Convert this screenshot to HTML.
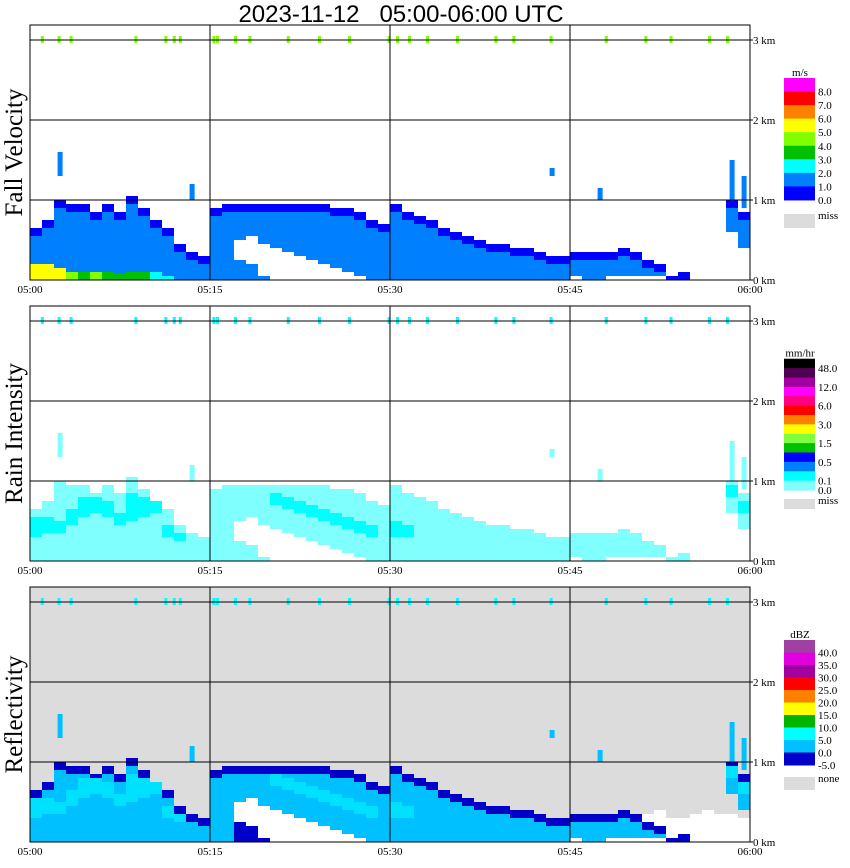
<!DOCTYPE html>
<html><head><meta charset="utf-8"><style>
body{margin:0;background:#fff;width:850px;height:868px;overflow:hidden}
svg{display:block}
text{font-family:"Liberation Serif",serif}
</style></head><body>
<svg id="c" width="850" height="868" xmlns="http://www.w3.org/2000/svg">
<text x="401" y="22" text-anchor="middle" font-size="24" style="font-family:'Liberation Sans',sans-serif;white-space:pre" xml:space="preserve">2023-11-12   05:00-06:00 UTC</text>
</svg>
<script>
// ---- data (per minute, 05:00..05:59), heights in km ----
const minutes = Array.from({length:60},(_, i)=>i);
const echoTop  = [0.65,0.75,1.0,0.95,0.95,0.85,0.95,0.85,1.05,0.9,0.75,0.65,0.45,0.35,0.3,0.9,0.95,0.95,0.95,0.95,0.95,0.95,0.95,0.95,0.95,0.9,0.9,0.85,0.75,0.7,0.95,0.85,0.8,0.75,0.65,0.6,0.55,0.5,0.45,0.45,0.4,0.4,0.35,0.3,0.3,0.35,0.35,0.35,0.35,0.4,0.35,0.25,0.2,0.05,0.1,0,0,0,1.0,0.85];
const echoBase = [0,0,0,0,0,0,0,0,0,0,0,0,0,0,0,0,0,0.5,0.55,0.45,0.4,0.35,0.3,0.25,0.2,0.15,0.1,0.05,0,0,0,0,0,0,0,0,0,0,0,0,0,0,0,0,0,0.05,0,0,0.05,0.05,0.05,0.05,0.05,0,0,0,0,0,0.6,0.4];
const lowTop   = [0,0,0,0,0,0,0,0,0,0,0,0,0,0,0,0,0,0.25,0.2,0.05,0,0,0,0,0,0,0,0,0,0,0,0,0,0,0,0,0,0,0,0,0,0,0,0,0,0,0,0,0,0,0,0,0,0,0,0,0,0,0,0];
const fvCoreTop = [0.2,0.2,0.15,0.1,0.1,0.1,0.1,0.08,0.1,0.1,0.1,0.05,0,0,0,0,0,0,0,0,0,0,0,0,0,0,0,0,0,0,0,0,0,0,0,0,0,0,0,0,0,0,0,0,0,0,0,0,0,0,0,0,0,0,0,0,0,0,0,0];
const fvCoreCls = [3,3,3,4,5,4,5,5,5,5,6,6,7,7,7,7,7,7,7,7,7,7,7,7,7,7,7,7,7,7,7,7,7,7,7,7,7,7,7,7,7,7,7,7,7,7,7,7,7,7,7,7,7,7,7,7,7,7,7,7];
const riBandLo = [0.3,0.35,0.35,0.45,0.55,0.6,0.55,0.45,0.5,0.55,0.6,0.3,0.25,0,0,0,0,0,0,0,0.7,0.65,0.6,0.55,0.5,0.45,0.4,0.35,0.3,0,0.3,0.3,0,0,0,0,0,0,0,0,0,0,0,0,0,0,0,0,0,0,0,0,0,0,0,0,0,0,0.8,0.6];
const riBandHi = [0.55,0.55,0.5,0.65,0.8,0.8,0.75,0.6,0.85,0.8,0.75,0.45,0.35,0,0,0,0,0,0,0,0.85,0.8,0.75,0.7,0.65,0.6,0.55,0.5,0.45,0,0.5,0.45,0,0,0,0,0,0,0,0,0,0,0,0,0,0,0,0,0,0,0,0,0,0,0,0,0,0,0.95,0.75];
const zWhiteTop = [0,0,0,0,0,0,0,0,0,0,0,0,0,0,0,0,0,0.5,0.55,0.45,0.4,0.35,0.3,0.25,0.2,0.15,0.1,0.05,0,0,0,0,0,0,0,0,0,0,0,0,0,0,0,0,0,0.2,0.3,0.35,0.3,0.3,0.25,0.35,0.4,0.3,0.3,0.35,0.4,0.35,0.35,0.3];
const cellMin = [2,13,43,47,58,59];
const cellLo  = [1.3,1.0,1.3,1.0,1.0,0.9];
const cellHi  = [1.6,1.2,1.4,1.15,1.5,1.3];
const clutter = [0.9,2.3,3.3,8.7,11.2,11.9,12.4,15.2,15.5,17.0,18.2,21.4,24.0,26.5,29.8,30.5,31.5,33.0,35.5,38.7,40.2,43.3,47.9,51.2,53.3,56.5,58.0];
const timeLabels = ["05:00","05:15","05:30","05:45","06:00"];
const kmLabels = ["0 km","1 km","2 km","3 km"];

const fvColors=["#ff00ff","#ff0000","#ff8000","#ffff00","#80ff00","#00c000","#00ffff","#0080ff","#0000ff"];
const fvLabels=["8.0","7.0","6.0","5.0","4.0","3.0","2.0","1.0","0.0"];
const riColors=["#000000","#500050","#a000a0","#ff00ff","#ff0080","#ff0000","#ff8000","#ffff00","#80ff40","#00c000","#0000ff","#0080ff","#00ffff","#80ffff"];
const riLabels=["48.0","","12.0","","6.0","","3.0","","1.5","","0.5","","0.1","0.0"];
const zColors=["#a040a0","#e000e0","#a000a0","#ff0000","#ff8000","#ffff00","#00b400","#00ffff","#00c0ff","#0000c8"];
const zLabels=["40.0","35.0","30.0","25.0","20.0","15.0","10.0","5.0","0.0","-5.0"];

const svg=document.getElementById('c');
const NS="http://www.w3.org/2000/svg";
const X0=30,X1=750,PH=255,KM=80;
const xs=m=>X0+m*(X1-X0)/60;
function el(tag,attrs,parent){const e=document.createElementNS(NS,tag);for(const k in attrs)e.setAttribute(k,attrs[k]);(parent||svg).appendChild(e);return e;}
function rect(g,m,lo,hi,fill,top,w){
  if(hi<=lo)return;
  const ys=km=>top+PH-km*KM;
  const r=el('rect',{x:xs(m),y:ys(hi),width:w||12,height:ys(lo)-ys(hi),fill:fill},g);
  
  
}
const panels=[
 {top:25,name:'fall-velocity',title:'Fall Velocity',bg:'#fff'},
 {top:306,name:'rain-intensity',title:'Rain Intensity',bg:'#fff'},
 {top:587,name:'reflectivity',title:'Reflectivity',bg:'#dcdcdc'}];
panels.forEach((p,pi)=>{
  const g=el('g',{});
  
  
  el('rect',{x:X0,y:p.top,width:X1-X0,height:PH,fill:p.bg},g);
  minutes.forEach(m=>{
    const t=echoTop[m],b=echoBase[m];
    if(pi===0){
      rect(g,m,b,t,'#0080ff',p.top);
      rect(g,m,Math.max(b,t-0.1),t,'#0000ff',p.top);
      rect(g,m,0,lowTop[m],'#0080ff',p.top);
      if(fvCoreTop[m]>0)rect(g,m,0,fvCoreTop[m],fvColors[fvCoreCls[m]],p.top);
    }else if(pi===1){
      rect(g,m,b,t,'#80ffff',p.top);
      rect(g,m,0,lowTop[m],'#80ffff',p.top);
      rect(g,m,riBandLo[m],riBandHi[m],'#00ffff',p.top);
    }else{
      rect(g,m,0,zWhiteTop[m],'#ffffff',p.top);
      rect(g,m,b,t,'#00c0ff',p.top);
      rect(g,m,Math.max(b,t-0.1),t,'#0000c8',p.top);
      rect(g,m,0,lowTop[m],'#0000c8',p.top);
      rect(g,m,riBandLo[m],riBandHi[m],'#00e0ff',p.top);
    }
  });
  cellMin.forEach((m,i)=>rect(g,m+0.3,cellLo[i],cellHi[i],pi===1?'#80ffff':(pi===0?'#0080ff':'#00c0ff'),p.top,5));
  clutter.forEach(m=>{
    const r=el('rect',{x:xs(m),y:p.top+PH-3*KM-4,width:3,height:7,fill:pi===0?'#80ff00':'#00ffff'},g);
    
    
  });
  [15,30,45].forEach(m=>el('line',{x1:xs(m),x2:xs(m),y1:p.top,y2:p.top+PH,stroke:'#000'},g));
  [1,2,3].forEach(k=>el('line',{x1:X0,x2:X1,y1:p.top+PH-k*KM,y2:p.top+PH-k*KM,stroke:'#000'},g));
  el('rect',{x:X0,y:p.top,width:X1-X0,height:PH,fill:'none',stroke:'#000'},g);
  kmLabels.forEach((s,k)=>{const t=el('text',{x:753,y:p.top+PH-k*KM+4,'font-size':11},g);t.textContent=s;
    
    el('line',{x1:X1,x2:X1+3,y1:p.top+PH-k*KM,y2:p.top+PH-k*KM,stroke:'#000'},g);});
  timeLabels.forEach((s,k)=>{const t=el('text',{x:xs(k*15),y:p.top+PH+13,'font-size':11,'text-anchor':'middle'},g);t.textContent=s;
    });
  const ty=p.top+PH/2;
  const tt=el('text',{x:22,y:ty,'font-size':25,'text-anchor':'middle',transform:`rotate(-90 22 ${ty})`},g);
  tt.textContent=p.title;
  
  
});
function legend(colors,labels,unit,y0,h,missY,missH,missLabel,name){
  const g=el('g',{});
  
  
  const u=el('text',{x:800,y:y0-2,'font-size':11,'text-anchor':'middle'},g);u.textContent=unit;
  colors.forEach((c,i)=>{
    const r=el('rect',{x:784,y:y0+i*h,width:31,height:h+0.5,fill:c},g);
    
    
    if(labels[i]){const t=el('text',{x:818,y:y0+(i+1)*h+4,'font-size':11},g);t.textContent=labels[i];}
  });
  el('rect',{x:784,y:missY,width:31,height:missH,fill:'#dcdcdc'},g);
  const m=el('text',{x:818,y:missY+5,'font-size':11},g);m.textContent=missLabel;
}
legend(fvColors,fvLabels,'m/s',78,13.55,214,14,'miss','fall-velocity-legend');
legend(riColors,riLabels,'mm/hr',358.7,9.38,499,10,'miss','rain-intensity-legend');
legend(zColors,zLabels,'dBZ',640,12.5,777,13,'none','reflectivity-legend');
</script>
</body></html>
